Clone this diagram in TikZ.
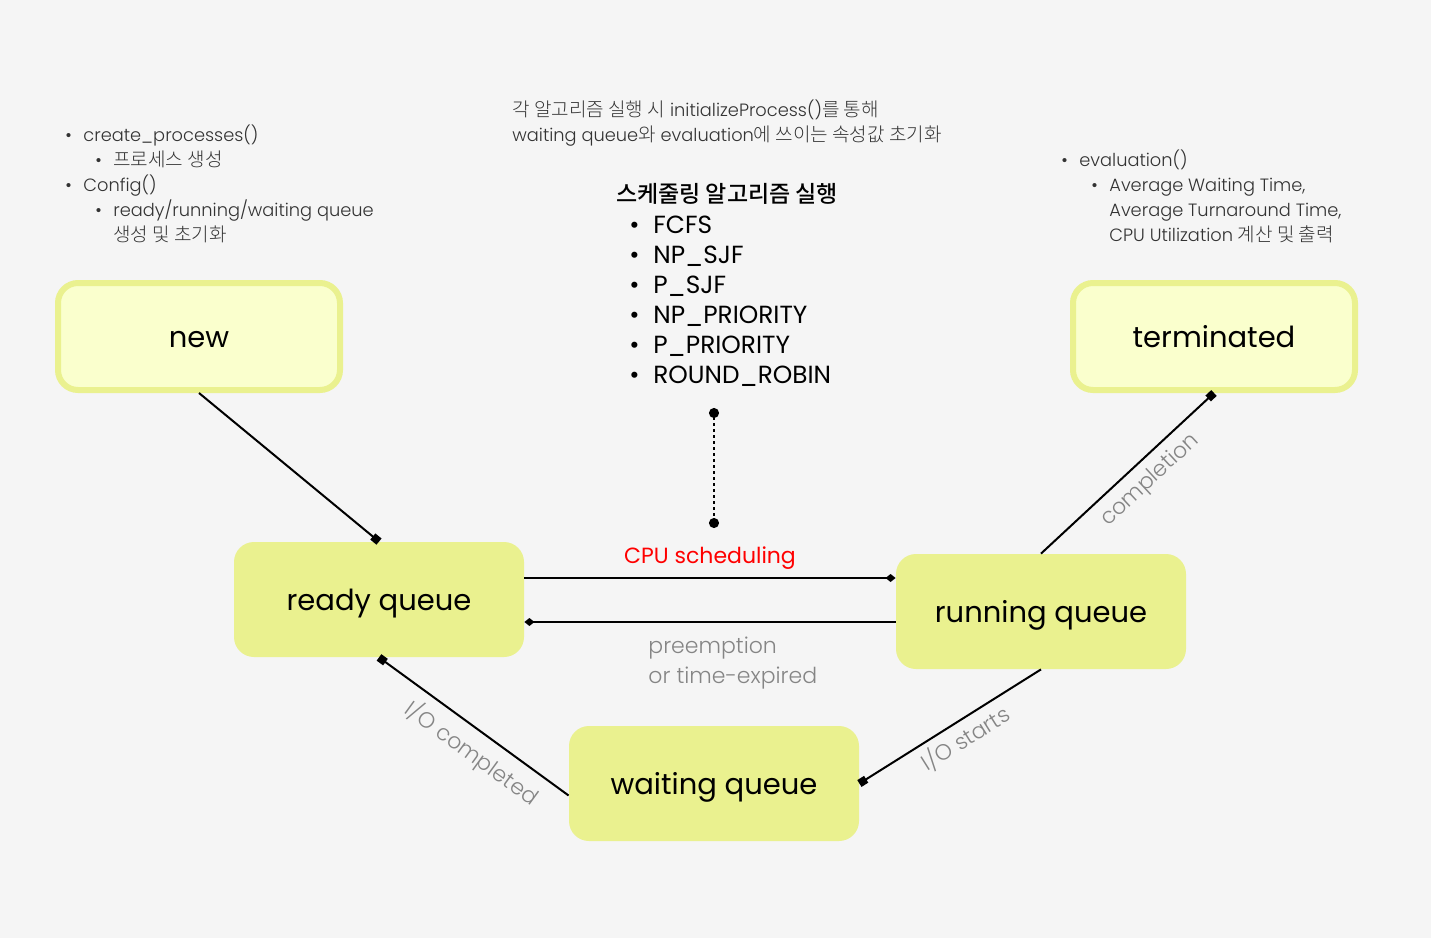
\documentclass[tikz,border=0pt]{standalone}
\usepackage{fontspec}
\setmainfont{Poppins}
\IfFontExistsTF{Poppins Light}
  {\newfontfamily\light{Poppins Light}}
  {\newfontfamily\light{Poppins}}
\IfFontExistsTF{Noto Sans CJK KR Light}
  {\newfontfamily\kr[Scale=1.07]{Noto Sans CJK KR Light}}
  {\newfontfamily\kr[Scale=1.07]{Noto Sans CJK KR}}
\IfFontExistsTF{Noto Sans CJK KR Medium}
  {\newfontfamily\krmed{Noto Sans CJK KR Medium}}
  {\newfontfamily\krmed{Noto Sans CJK KR}}
\usetikzlibrary{
  arrows.meta,
  positioning
}
\definecolor{bgcol}{HTML}{F5F5F5}
\definecolor{limefill}{HTML}{EAF18F}
\definecolor{palefill}{HTML}{FAFFCD}
\definecolor{notegray}{HTML}{333333}
\definecolor{labelgray}{HTML}{858585}
\newcommand\bul{\makebox[9pt][l]{\textbullet}}
\newcommand\subin{\hspace*{15pt}}

\begin{document}
\begin{tikzpicture}[x=0.5pt,y=-0.5pt]
  \tikzset{
    queuebox/.style={rounded corners=10pt, fill=limefill, inner sep=0pt,
      minimum width=145pt, minimum height=57.5pt,
      text height=13pt, text depth=2pt,
      font=\fontsize{14.5}{16}\selectfont},
    endbox/.style={queuebox, fill=palefill, draw=limefill, line width=3pt,
      minimum width=141pt, minimum height=53.5pt},
    link/.style={line width=1pt},
    edgelabel/.style={text=labelgray, font=\light\fontsize{11}{15}\selectfont},
    note/.style={text=notegray, align=left, inner sep=0pt,
      font=\light\fontsize{8.9}{12.5}\selectfont},
  }
  \fill[bgcol] (0,0) rectangle (1431,938);
  \useasboundingbox (0,0) rectangle (1431,938);

  % states
  \node[endbox] (new) at (199,336.5) {new};
  \node[endbox] (terminated) at (1214,336.5) {terminated};
  \node[queuebox] (ready) at (379,599.5) {ready queue};
  \node[queuebox] (running) at (1041,611.5) {running queue};
  \node[queuebox] (waiting) at (714,783.5) {waiting queue};

  % notes
  \node[note, anchor=north west] (newnote) at (65,124) {%
    \bul create\_processes()\\
    \subin\bul{\kr 프로세스 생성}\\
    \bul Config()\\
    \subin\bul ready/running/waiting queue\\
    \subin\hspace*{9pt}{\kr 생성 및 초기화}};
  \node[note, anchor=north west] (termnote) at (1061,149) {%
    \bul evaluation()\\
    \subin\bul Average Waiting Time,\\
    \subin\hspace*{9pt}Average Turnaround Time,\\
    \subin\hspace*{9pt}CPU Utilization {\kr 계산 및 출력}};
  \node[note, anchor=north west] (initnote) at (512,99) {%
    {\kr 각 알고리즘 실행 시} initializeProcess(){\kr 를 통해}\\
    waiting queue{\kr 와} evaluation{\kr 에 쓰이는 속성값 초기화}};

  % algorithms
  \node[inner sep=0pt, font=\krmed\fontsize{11.5}{14}\selectfont] (algotitle)
    at (727,194) {스케줄링 알고리즘 실행};
  \node[inner sep=0pt, align=left, anchor=north west,
    font=\fontsize{12.4}{15}\selectfont] (algolist) at (629,215.5) {%
    \makebox[12pt][l]{\textbullet}FCFS\\
    \makebox[12pt][l]{\textbullet}NP\_SJF\\
    \makebox[12pt][l]{\textbullet}P\_SJF\\
    \makebox[12pt][l]{\textbullet}NP\_PRIORITY\\
    \makebox[12pt][l]{\textbullet}P\_PRIORITY\\
    \makebox[12pt][l]{\textbullet}ROUND\_ROBIN};
  \coordinate (dotTop) at (714,408);
  \coordinate (dotBot) at (714,528);
  \draw[link, dash pattern=on 1.5pt off 1.5pt,
    {Circle[length=5pt]}-{Circle[length=5pt]}] (dotTop) -- (dotBot);

  % transitions
  \coordinate (cpuStart) at ([yshift=10.75pt]ready.east);
  \coordinate (cpuEnd) at (cpuStart -| running.west);
  \coordinate (preStart) at ([yshift=-11.25pt]ready.east -| running.west);
  \coordinate (preEnd) at ([yshift=-11.25pt]ready.east);
  \draw[link, -{Square[length=4pt,width=4pt]}] (new.south) -- (ready.north);
  \draw[link, -{Diamond[length=5pt,width=4pt]}] (cpuStart) -- (cpuEnd)
    node[midway, above=0.5pt, edgelabel, text=red, font=\fontsize{11}{15}\selectfont]
    (cpulabel) {CPU scheduling};
  \draw[link, -{Diamond[length=5pt,width=4pt]}] (preStart) -- (preEnd);
  \node[edgelabel, align=left, anchor=north west, inner sep=0pt]
    (prelabel) at (648,637) {preemption\\or time-expired};
  \draw[link, -{Square[length=4pt,width=4pt]}] (running.south) -- (waiting.east)
    node[pos=0.47, sloped, below=-1pt, edgelabel] (iostart) {I/O starts};
  \draw[link, -{Square[length=4pt,width=4pt]}] ([yshift=-6pt]waiting.west) -- (ready.south)
    node[pos=0.44, sloped, below=1pt, edgelabel] (iodone) {I/O completed};
  \draw[link, -{Square[length=4pt,width=4pt]}] (running.north) -- (terminated.south)
    node[pos=0.55, sloped, below=1pt, edgelabel] (complabel) {completion};
\end{tikzpicture}
\end{document}
